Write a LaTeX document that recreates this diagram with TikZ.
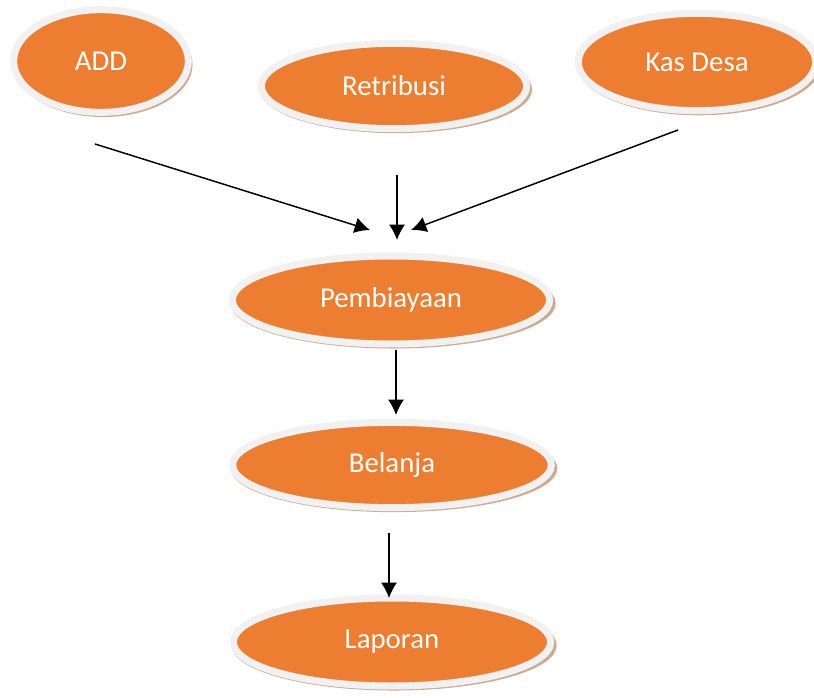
\documentclass[tikz,border=0pt]{standalone}
\usepackage{fontspec}
\setmainfont{Carlito}
\usepackage{tikz}
\usetikzlibrary{arrows,arrows.meta,shapes.geometric,shadows}

\definecolor{accent}{HTML}{ED7D31}
\definecolor{rim}{HTML}{F1F1F1}
\definecolor{shade}{HTML}{C49C80}

\begin{document}
\begin{tikzpicture}[
    x=0.75pt,y=-0.75pt,
    every node/.style={ellipse,fill=accent,draw=rim,line width=5.25pt,inner sep=0pt,
        text=white,font=\fontsize{21.6}{25}\selectfont,
        drop shadow={shadow xshift=1.5pt,shadow yshift=-2.5pt,shadow scale=1.025,fill=shade,opacity=0.85}},
    arrow/.style={-{Latex[length=11.5pt,width=12pt]},line width=1.1pt}
]
    \useasboundingbox (0,0) rectangle (814,698);

    \node (ADD) [minimum width=131pt,minimum height=77pt] at (101,61) {ADD};
    \node (Ret) [minimum width=199pt,minimum height=64pt] at (394,86) {Retribusi};
    \node (Kas) [minimum width=178pt,minimum height=73pt] at (697,62) {Kas Desa};
    \node (Pem) [minimum width=238pt,minimum height=66pt] at (391,300) {Pembiayaan};
    \node (Bel) [minimum width=239pt,minimum height=64pt] at (392,465) {Belanja};
    \node (Lap) [minimum width=238pt,minimum height=66pt] at (392,642) {Laporan};

    \coordinate (a1) at (95,144);
    \coordinate (a2) at (370,230);
    \coordinate (r1) at (397,175);
    \coordinate (r2) at (397,240);
    \coordinate (k1) at (678,130);
    \coordinate (k2) at (411,230);
    \coordinate (p1) at (396,350);
    \coordinate (p2) at (396,415);
    \coordinate (b1) at (389,533);
    \coordinate (b2) at (389,598);

    \draw[arrow] (a1) -- (a2);
    \draw[arrow] (r1) -- (r2);
    \draw[arrow] (k1) -- (k2);
    \draw[arrow] (p1) -- (p2);
    \draw[arrow] (b1) -- (b2);
\end{tikzpicture}
\end{document}
